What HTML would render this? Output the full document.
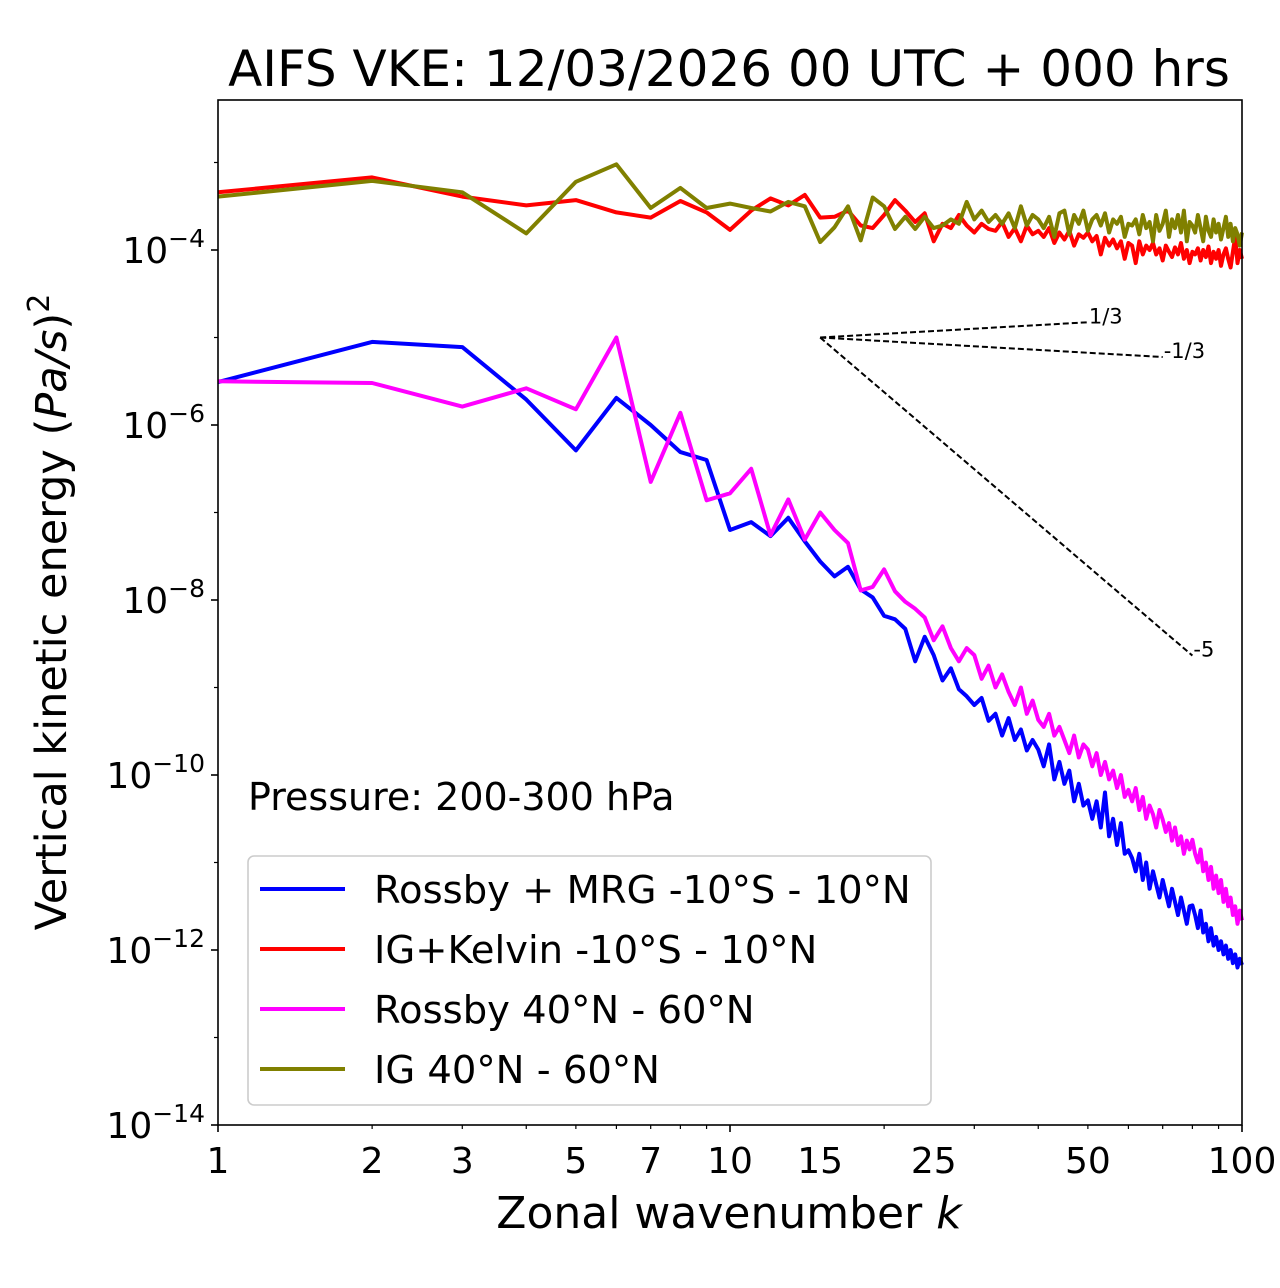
<!DOCTYPE html>
<html><head><meta charset="utf-8"><style>
body{margin:0;background:#fff;}
svg{display:block;font-family:"DejaVu Sans","Liberation Sans",sans-serif;}
</style></head><body>
<svg id="chart" width="1280" height="1288" viewBox="0 0 1280 1288" xmlns="http://www.w3.org/2000/svg">
<rect width="1280" height="1288" fill="#fff"/>
<text x="729" y="86" font-size="50" text-anchor="middle">AIFS VKE: 12/03/2026 00 UTC + 000 hrs</text>
<g id="ticks"></g>
<g id="series"></g>
<g id="refs"></g>
<rect x="218" y="100" width="1024" height="1025" fill="none" stroke="#000" stroke-width="1.6"/>
<text x="729" y="1228" font-size="44" text-anchor="middle">Zonal wavenumber <tspan font-style="italic">k</tspan></text>
<text transform="translate(66,612) rotate(-90)" font-size="43" text-anchor="middle">Vertical kinetic energy (<tspan font-style="italic">Pa/s</tspan>)<tspan dy="-17" font-size="30">2</tspan></text>
<text x="248" y="810" font-size="38">Pressure: 200-300 hPa</text>
<g>
<rect x="248" y="856" width="683" height="249" rx="6" fill="#fff" fill-opacity="0.8" stroke="#ccc" stroke-width="1.6"/>
<g><line x1="260" y1="889" x2="345" y2="889" stroke="#0000ff" stroke-width="4"/><text x="374" y="903" font-size="38.5">Rossby + MRG -10°S - 10°N</text></g>
<g><line x1="260" y1="949" x2="345" y2="949" stroke="#ff0000" stroke-width="4"/><text x="374" y="963" font-size="38.5">IG+Kelvin -10°S - 10°N</text></g>
<g><line x1="260" y1="1009" x2="345" y2="1009" stroke="#ff00ff" stroke-width="4"/><text x="374" y="1023" font-size="38.5">Rossby 40°N - 60°N</text></g>
<g><line x1="260" y1="1069" x2="345" y2="1069" stroke="#808000" stroke-width="4"/><text x="374" y="1083" font-size="38.5">IG 40°N - 60°N</text></g>
</g>
</svg>
<script>
const xTickLabels = [1,2,3,5,7,10,15,25,50,100];
const yTickExps = [-4,-6,-8,-10,-12,-14];
const seriesNames = ["Rossby + MRG -10°S - 10°N","IG+Kelvin -10°S - 10°N","Rossby 40°N - 60°N","IG 40°N - 60°N"];
const seriesColors = ["#0000ff","#ff0000","#ff00ff","#808000"];
const blueLog = [-5.51,-5.05,-5.11,-5.71,-6.29,-5.69,-6.0,-6.31,-6.4,-7.2,-7.11,-7.27,-7.06,-7.33,-7.56,-7.73,-7.62,-7.88,-7.97,-8.18,-8.22,-8.33,-8.7,-8.42,
-8.63,-8.92,-8.78,-9.02,-9.1,-9.2,-9.12,-9.38,-9.3,-9.55,-9.35,-9.6,-9.48,-9.72,-9.6,-9.71,
-9.9,-9.65,-10.05,-9.85,-10.1,-9.95,-10.3,-10.1,-10.35,-10.29,-10.5,-10.3,-10.6,-10.2,-10.7,-10.5,-10.8,-10.55,-10.9,-10.86,
-10.95,-11.1,-10.9,-11.2,-11.0,-11.3,-11.1,-11.25,-11.4,-11.2,-11.35,-11.5,-11.3,-11.45,-11.6,-11.4,-11.55,-11.7,-11.5,-11.49,
-11.6,-11.75,-11.55,-11.8,-11.7,-11.9,-11.75,-11.95,-11.85,-12.0,-11.9,-12.05,-11.95,-12.1,-12.0,-12.15,-12.05,-12.2,-12.1,-12.17];
const redLog = [-3.34,-3.17,-3.39,-3.49,-3.43,-3.57,-3.63,-3.44,-3.57,-3.77,-3.55,-3.41,-3.49,-3.37,-3.63,-3.62,-3.55,-3.72,-3.75,-3.6,-3.43,-3.55,-3.68,-3.58,
-3.9,-3.7,-3.75,-3.6,-3.72,-3.8,-3.7,-3.76,-3.78,-3.68,-3.85,-3.75,-3.9,-3.72,-3.82,-3.78,
-3.85,-3.75,-3.92,-3.8,-3.88,-3.78,-3.95,-3.82,-3.86,-3.8,-3.9,-3.84,-4.05,-3.86,-3.95,-3.88,-3.98,-3.9,-4.1,-3.92,
-3.95,-4.15,-3.9,-4.05,-3.95,-4.0,-3.92,-4.05,-3.98,-4.12,-3.95,-4.02,-4.08,-3.97,-4.05,-3.92,-4.1,-4.0,-4.15,-4.02,
-4.05,-3.98,-4.12,-4.0,-4.08,-3.96,-4.15,-4.02,-4.1,-4.0,-4.18,-4.05,-3.98,-4.1,-4.2,-4.02,-3.85,-4.15,-4.0,-4.1];
const magentaLog = [-5.5,-5.52,-5.79,-5.58,-5.82,-5.0,-6.65,-5.86,-6.86,-6.78,-6.5,-7.26,-6.85,-7.31,-7.0,-7.2,-7.35,-7.89,-7.85,-7.65,-7.9,-8.02,-8.1,-8.2,
-8.46,-8.3,-8.55,-8.7,-8.55,-8.63,-8.9,-8.75,-9.0,-8.85,-9.05,-9.2,-9.0,-9.3,-9.15,-9.37,
-9.45,-9.3,-9.55,-9.45,-9.6,-9.75,-9.55,-9.8,-9.65,-9.71,-9.9,-9.75,-10.0,-9.85,-10.05,-9.95,-10.15,-10.0,-10.25,-10.17,
-10.3,-10.15,-10.4,-10.25,-10.5,-10.35,-10.45,-10.6,-10.4,-10.51,-10.65,-10.55,-10.75,-10.6,-10.8,-10.7,-10.9,-10.75,-10.85,-10.74,
-10.9,-11.0,-10.85,-11.1,-11.0,-11.2,-11.05,-11.3,-11.15,-11.35,-11.2,-11.45,-11.3,-11.5,-11.4,-11.6,-11.5,-11.7,-11.55,-11.66];
const oliveLog = [-3.39,-3.21,-3.34,-3.81,-3.22,-3.02,-3.52,-3.29,-3.52,-3.47,-3.52,-3.56,-3.45,-3.5,-3.91,-3.74,-3.5,-3.89,-3.4,-3.5,-3.76,-3.62,-3.76,-3.62,
-3.75,-3.72,-3.65,-3.7,-3.45,-3.65,-3.55,-3.68,-3.6,-3.7,-3.58,-3.75,-3.5,-3.72,-3.6,-3.65,
-3.75,-3.62,-3.85,-3.58,-3.55,-3.82,-3.6,-3.7,-3.55,-3.78,-3.65,-3.6,-3.72,-3.58,-3.8,-3.65,-3.7,-3.62,-3.85,-3.7,
-3.72,-3.65,-3.82,-3.6,-3.75,-3.68,-3.9,-3.6,-3.78,-3.7,-3.55,-3.85,-3.65,-3.75,-3.6,-3.8,-3.55,-3.9,-3.68,-3.72,
-3.8,-3.6,-3.75,-3.9,-3.62,-3.78,-3.85,-3.65,-3.8,-3.7,-3.88,-3.75,-3.62,-3.85,-3.7,-3.9,-3.75,-3.82,-3.95,-3.8];
const refSlopes = ["1/3","-1/3","-5"];
const refSlopeValues = [1/3,-1/3,-5];
const refEndK = [50,70,80];
const refStartK = 15;
const refStartLog = -5;

const NS="http://www.w3.org/2000/svg";
const X0=218,W=1024,Y0=100,H=1025,LMIN=-14,LMAX=-2.2857;
function xs(k){return X0+Math.log10(k)/2*W;}
function ys(l){return Y0+(LMAX-l)/(LMAX-LMIN)*H;}
function mk(tag,attrs,parent){const e=document.createElementNS(NS,tag);for(const a in attrs)e.setAttribute(a,attrs[a]);parent.appendChild(e);return e;}
const ticks=document.getElementById('ticks');
for(let d=0;d<2;d++)for(let m=1;m<10;m++){const k=m*Math.pow(10,d);const major=m===1;
const t=mk('line',{x1:xs(k),x2:xs(k),y1:1125,y2:1125+(major?7:4),stroke:'#000','stroke-width':major?1.6:1.2},ticks);

}
mk('line',{x1:xs(100),x2:xs(100),y1:1125,y2:1132,stroke:'#000','stroke-width':1.6},ticks);
xTickLabels.forEach(k=>{const t=mk('text',{x:xs(k),y:1173,'font-size':36,'text-anchor':'middle'},ticks);t.textContent=k;

});
for(let e=-14;e<=-3;e++){const major=e%2===0;
const t=mk('line',{x1:218-(major?7:4),x2:218,y1:ys(e),y2:ys(e),stroke:'#000','stroke-width':major?1.6:1.2},ticks);

}
yTickExps.forEach(e=>{const t=mk('text',{x:205,y:ys(e)+13,'font-size':36,'text-anchor':'end'},ticks);


t.appendChild(document.createTextNode('10'));const s=mk('tspan',{dy:-16,'font-size':25},t);s.textContent='−'+(-e);});
const sg=document.getElementById('series');
const data=[blueLog,redLog,magentaLog,oliveLog];
const order=[0,2,1,3];
order.forEach(i=>{const arr=data[i];const pts=arr.map((l,j)=>xs(j+1).toFixed(1)+','+ys(l).toFixed(1)).join(' ');
const p=mk('polyline',{points:pts,fill:'none',stroke:seriesColors[i],'stroke-width':4,'stroke-linejoin':'round'},sg);

});
const rg=document.getElementById('refs');
refSlopes.forEach((lab,i)=>{const k1=refEndK[i];const l1=refStartLog+refSlopeValues[i]*Math.log10(k1/refStartK);
const ln=mk('line',{x1:xs(refStartK),y1:ys(refStartLog),x2:xs(k1),y2:ys(l1),stroke:'#000','stroke-width':2,'stroke-dasharray':'6,3'},rg);


const t=mk('text',{x:xs(k1)+1,y:ys(l1)+1,'font-size':21},rg);t.textContent=lab;

});
</script>
</body></html>
